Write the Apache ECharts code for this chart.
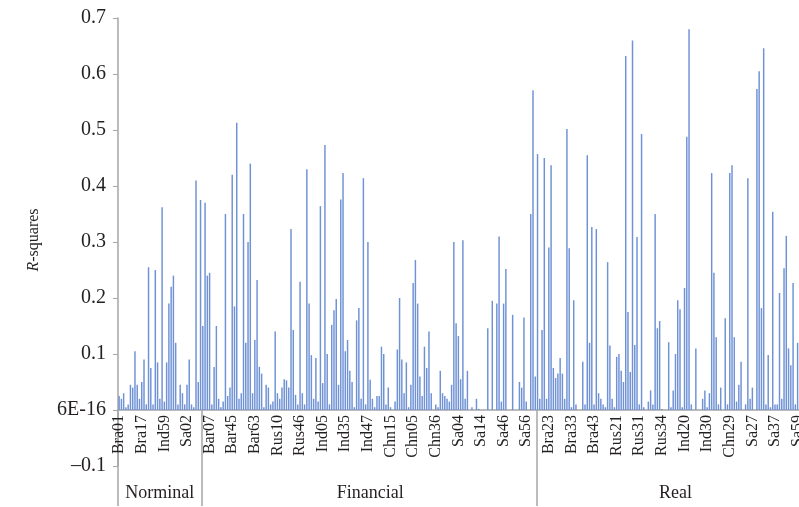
<!DOCTYPE html>
<html>
<head>
<meta charset="utf-8">
<script src="https://cdn.jsdelivr.net/npm/echarts@6/dist/echarts.min.js"></script>
<style>
  html, body { margin: 0; padding: 0; background: #fff; }
  #chart { width: 799px; height: 507px; }
</style>
</head>
<body>
<div id="chart"></div>
<script>
// R-squares by series, three groups, one label every 10 series
const tickLabels = ['Bra01', 'Bra17', 'Ind59', 'Sa02', 'Bar07', 'Bar45', 'Bar63', 'Rus10', 'Rus46',
  'Ind05', 'Ind35', 'Ind47', 'Chn15', 'Chn05', 'Chn36', 'Sa04', 'Sa14', 'Sa46', 'Sa56',
  'Bra23', 'Bra33', 'Bra43', 'Rus21', 'Rus31', 'Rus34', 'Ind20', 'Ind30', 'Chn29', 'Sa27', 'Sa37', 'Sa59']
const groupNames = ['Norminal', 'Financial', 'Real']

const norminal = [
  0.025, 0.02, 0.03, 0.005, 0.01, 0.045, 0.04, 0.105, 0.045, 0.02,
  0.05, 0.09, 0.01, 0.255, 0.075, 0.01, 0.25, 0.085, 0.02, 0.362,
  0.015, 0.085, 0.19, 0.22, 0.24, 0.12, 0.01, 0.045, 0.03, 0.01,
  0.045, 0.09, 0.01, 0.005, 0.41, 0.05, 0.375
]
const financial = [
  0.15, 0.37, 0.24, 0.245, 0.01, 0.077, 0.15, 0.02, 0.005, 0.015,
  0.35, 0.025, 0.04, 0.42, 0.185, 0.513, 0.02, 0.03, 0.35, 0.12,
  0.30, 0.44, 0.03, 0.125, 0.232, 0.077, 0.065, 0.005, 0.045, 0.04,
  0.01, 0.015, 0.14, 0.03, 0.02, 0.04, 0.055, 0.053, 0.04, 0.323,
  0.143, 0.027, 0.01, 0.229, 0.03, 0.01, 0.43, 0.19, 0.098, 0.02,
  0.093, 0.015, 0.364, 0.048, 0.473, 0.10, 0.01, 0.152, 0.178, 0.198,
  0.045, 0.376, 0.423, 0.105, 0.125, 0.07, 0.05, 0.005, 0.16, 0.182,
  0.02, 0.414, 0.01, 0.30, 0.054, 0.02, 0.005, 0.025, 0.025, 0.113,
  0.10, 0.01, 0.04, 0.005, 0, 0.015, 0.108, 0.2, 0.09, 0.03,
  0.085, 0.005, 0.045, 0.227, 0.268, 0.19, 0.06, 0.025, 0.113, 0.075,
  0.14, 0.03, 0, 0.01, 0.005, 0.07, 0.03, 0.025, 0.02, 0.015,
  0.045, 0.30, 0.155, 0.132, 0.055, 0.303, 0.02, 0.07, 0, 0.005,
  0, 0.02, 0.002, 0, 0, 0, 0.146, 0, 0.195, 0,
  0.19, 0.31, 0.015, 0.19, 0.252, 0, 0, 0.17, 0, 0,
  0.05, 0.04, 0.165, 0.015, 0, 0.35, 0.571, 0.06
]
const real = [
  0.457, 0.02, 0.143, 0.45, 0.02, 0.29, 0.437, 0.075, 0.057, 0.065,
  0.093, 0.065, 0.02, 0.502, 0.289, 0.005, 0.196, 0.01, 0, 0,
  0.086, 0.01, 0.455, 0.12, 0.327, 0.01, 0.323, 0.03, 0.02, 0.01,
  0.005, 0.264, 0.115, 0.02, 0.005, 0.095, 0.1, 0.07, 0.05, 0.632,
  0.175, 0.068, 0.66, 0.116, 0.309, 0.01, 0.493, 0.005, 0, 0.015,
  0.035, 0.01, 0.35, 0.146, 0.159, 0.002, 0, 0, 0.121, 0.005,
  0.035, 0.1, 0.196, 0.18, 0.005, 0.218, 0.488, 0.68, 0.01, 0,
  0.11, 0, 0, 0.02, 0.035, 0.005, 0.03, 0.423, 0.245, 0.13,
  0.01, 0.04, 0, 0.164, 0.01, 0.423, 0.437, 0.13, 0.015, 0.045,
  0.086, 0, 0.01, 0.414, 0.02, 0.04, 0, 0.573, 0.605, 0.182,
  0.646, 0.01, 0.098, 0.005, 0.354, 0.01, 0.01, 0.209, 0.02, 0.253,
  0.311, 0.11, 0.08, 0.227, 0.01, 0.12, 0.005
]

const values = norminal.concat(financial, real)
const categories = values.map((v, i) => (i % 10 === 0 ? tickLabels[i / 10] : 'c' + i))
const groupStarts = [0, norminal.length, norminal.length + financial.length]
const groupMid = [18, 111, 246]

const serif = '"Liberation Serif", "Times New Roman", serif'
const gray = '#a6a6a6'
const ink = '#231f20'
const noBounds = { outerBoundsMode: 'none', containLabel: false }

const chart = echarts.init(document.getElementById('chart'))
chart.setOption({
  animation: false,
  backgroundColor: '#fff',
  // grid 0: bars above zero; grid 1: strip down to -0.1; grid 2: group bands
  // right edge runs just past the canvas, the source figure is cut there
  grid: [
    { left: 118, right: -2, top: 18, bottom: 97, ...noBounds },
    { left: 118, right: -2, top: 410, bottom: 41, ...noBounds },
    { left: 118, right: -2, top: 410, bottom: 1, ...noBounds }
  ],
  xAxis: [
    {
      gridIndex: 0,
      type: 'category',
      data: categories,
      axisLine: { lineStyle: { color: gray, width: 1.5 } },
      axisTick: { show: false },
      axisLabel: {
        interval: 9, rotate: 90, margin: 5,
        fontFamily: serif, fontSize: 16, color: ink
      }
    },
    { gridIndex: 1, type: 'category', data: categories, show: false },
    {
      gridIndex: 2,
      type: 'category',
      data: categories,
      axisLine: { show: false },
      axisTick: { show: false },
      splitLine: {
        show: true,
        interval: (i) => groupStarts.includes(i),
        lineStyle: { color: gray, width: 1.5 }
      },
      axisLabel: {
        interval: (i) => groupMid.includes(i),
        formatter: (v, i) => groupNames[groupMid.indexOf(i)],
        margin: -22,
        fontFamily: serif, fontSize: 18, color: ink
      }
    }
  ],
  yAxis: [
    {
      gridIndex: 0,
      type: 'value',
      min: 0, max: 0.7, interval: 0.1,
      name: '{i|R}-squares',
      nameLocation: 'middle',
      nameGap: 76,
      nameTextStyle: {
        fontFamily: serif, fontSize: 16, color: ink,
        padding: [0, 52, 0, 0],
        rich: { i: { fontFamily: serif, fontSize: 16, fontStyle: 'italic', color: ink } }
      },
      axisLine: { show: true, lineStyle: { color: gray, width: 1.5 } },
      axisTick: { show: true, length: 5, lineStyle: { color: gray } },
      splitLine: { show: false },
      axisLabel: {
        margin: 12, fontFamily: serif, fontSize: 20, color: ink,
        formatter: (v) => (v === 0 ? '6E-16' : v.toFixed(1))
      }
    },
    {
      gridIndex: 1,
      type: 'value',
      min: -0.1, max: 0, interval: 0.1,
      axisLine: { show: true, lineStyle: { color: gray, width: 1.5 } },
      axisTick: { show: true, length: 5, lineStyle: { color: gray } },
      splitLine: { show: false },
      axisLabel: {
        margin: 12, fontFamily: serif, fontSize: 20, color: ink,
        formatter: (v) => (v < 0 ? '\u2013' + Math.abs(v).toFixed(1) : '')
      }
    },
    { gridIndex: 2, type: 'value', show: false, splitLine: { show: false } }
  ],
  series: [{
    type: 'bar',
    xAxisIndex: 0,
    yAxisIndex: 0,
    data: values,
    barCategoryGap: '35%',
    itemStyle: { color: '#6f92d5' }
  }]
})
</script>
</body>
</html>
